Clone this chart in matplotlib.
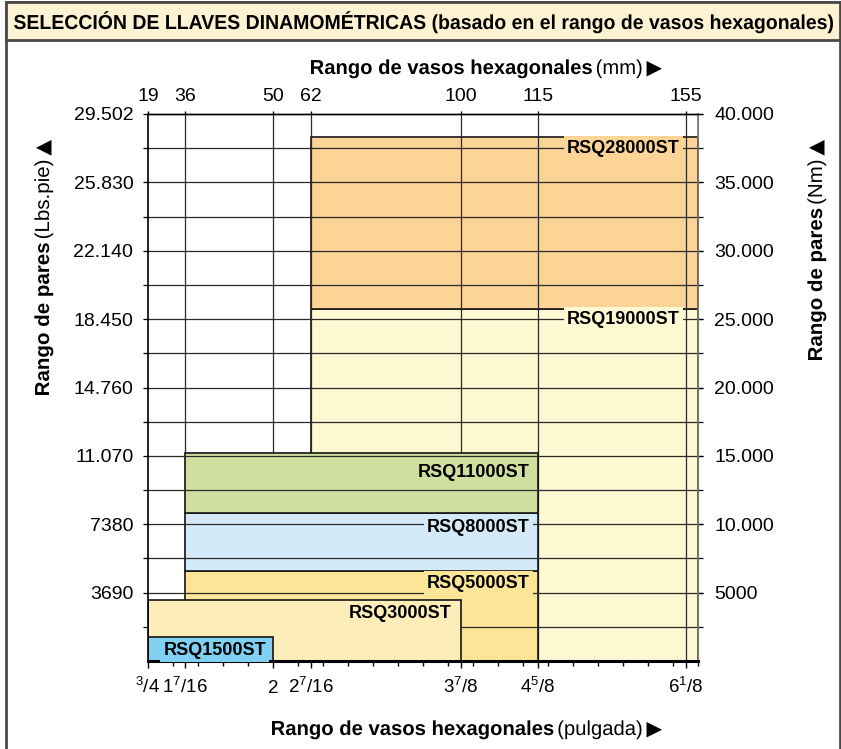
import numpy as np
import matplotlib.pyplot as plt
from matplotlib.patches import Rectangle, PathPatch
from matplotlib.textpath import TextPath
from matplotlib.font_manager import FontProperties
from matplotlib.transforms import Affine2D

# ==============================
# DATA
# ==============================

# socket size marks: position along the axis + labels
x_pos = [0.75, 1.12, 2.0, 2.38, 3.88, 4.65, 6.13]
mm_labels = ['19', '36', '50', '62', '100', '115', '155']
inch_labels = [r'$\mathregular{{}^{3}/4\ \ }$', r'$\mathregular{1^{7}/16}$', '2',
               r'$\mathregular{2^{7}/16}$', r'$\mathregular{3^{7}/8}$',
               r'$\mathregular{4^{5}/8}$', r'$\mathregular{6^{1}/8}$']

nm_ticks = [5000, 10000, 15000, 20000, 25000, 30000, 35000, 40000]
nm_labels = ['5000', '10.000', '15.000', '20.000', '25.000', '30.000', '35.000', '40.000']
lbs_labels = ['3690', '7380', '11.070', '14.760', '18.450', '22.140', '25.830', '29.502']

# wrench models: socket range (axis units) and torque range (Nm)
models = ['RSQ19000ST', 'RSQ28000ST', 'RSQ5000ST', 'RSQ8000ST', 'RSQ11000ST', 'RSQ3000ST', 'RSQ1500ST']
x_lo = [2.38, 2.38, 1.12, 1.12, 1.12, 0.75, 0.75]
x_hi = [6.25, 6.25, 4.65, 4.65, 4.65, 3.88, 2.0]
y_lo = [0, 25760, 0, 6600, 10800, 0, 0]
y_hi = [25760, 38300, 6600, 10800, 15230, 4480, 1780]

# ==============================
# STYLE
# ==============================

colors = ['#fef8d3', '#fcd495', '#fde597', '#d4eaf9', '#d0df9f', '#fdedb9', '#80d0f2']
zorders = [0.5, 0.5, 1, 1, 1, 2, 2]
label_x = [6.07, 6.07, 4.57, 4.57, 4.57, 3.79, 1.93]
label_y = [25000, 37500, 5700, 9750, 13800, 3500, 800]

W, H = 841, 749
plt.rcParams['font.family'] = ['Liberation Sans', 'DejaVu Sans']
plt.rcParams['mathtext.fontset'] = 'custom'
plt.rcParams['mathtext.rm'] = 'Liberation Sans'

fig = plt.figure(figsize=(W / 100, H / 100), dpi=100)
fig.patch.set_facecolor('white')

# frame + title band
fig.add_artist(Rectangle((6 / W, -0.01), 834 / W, 1 - 2 / H + 0.01, transform=fig.transFigure,
                         fc='none', ec='#4a4a4a', lw=2))
fig.add_artist(Rectangle((6 / W, 1 - 40 / H), 834 / W, 38 / H, transform=fig.transFigure,
                         fc='#fdf2d2', ec='#4a4a4a', lw=2))

ax = fig.add_axes([148 / W, 1 - 661 / H, 550 / W, 547 / H])
ax.set_xlim(0.75, 6.25)
ax.set_ylim(0, 40000)

for m, a, b, c, d, fc, z, lx, ly in zip(models, x_lo, x_hi, y_lo, y_hi, colors, zorders, label_x, label_y):
    ax.add_patch(Rectangle((a, c), b - a, d - c, fc=fc, ec='#151515', lw=1.2, zorder=z))
    ax.text(lx, ly, m, ha='right', va='center', fontsize=13, fontweight='bold', zorder=3,
            bbox=dict(fc=fc, ec='none', pad=2.5))

# grid
for y in np.arange(2500, 40000, 2500):
    ax.axhline(y, color='#2a2a2a', lw=0.9, zorder=1.5)
for x in x_pos[1:]:
    ax.axvline(x, color='#2a2a2a', lw=0.9, zorder=0.8)

# axes / ticks (lengths and pads in points)
ax.set_xticks(x_pos, inch_labels)
ax.set_xticks(np.arange(0.75, 6.26, 0.25), minor=True)
ax.tick_params(axis='x', which='major', length=5, width=1, pad=18, labelsize=13.5)
ax.tick_params(axis='x', which='minor', length=3.6, width=1)
for t in ax.get_xticklabels():
    t.set_va('baseline')

ax.set_yticks(nm_ticks, lbs_labels)
ax.set_yticks(np.arange(2500, 40000, 5000), minor=True)
ax.tick_params(axis='y', which='both', length=3.6, width=0.9, right=True, labelsize=14, pad=7)

ax.spines['bottom'].set_linewidth(2.2)
ax.spines['left'].set_linewidth(1.2)
ax.spines['top'].set_linewidth(1.0)
ax.spines['right'].set_color('#777777')
ax.spines['right'].set_linewidth(1.2)

top = ax.secondary_xaxis('top')
top.set_xticks(x_pos, mm_labels)
top.tick_params(length=2.2, width=1, labelsize=14, pad=4)
top.spines['top'].set_linewidth(1.0)

right = ax.secondary_yaxis('right')
right.set_yticks(nm_ticks, nm_labels)
right.tick_params(length=3.6, width=0.9, labelsize=14, pad=8)
right.spines['right'].set_color('#777777')

# ==============================
# TITLES: condensed look by squeezing text paths to the chart's widths
# ==============================


def squeezed(parts, x, y, length, rot=0, cap=14.5):
    size = cap / 0.716
    placed = []
    off = 0.0
    gap = 0.25 * size
    for s, w, fam in parts:
        tp = TextPath((0, 0), s, size=size, prop=FontProperties(family=fam, weight=w))
        ext = tp.get_extents()
        placed.append((tp, off - ext.x0))
        off += ext.x1 - ext.x0 + gap
    k = length / (off - gap)
    for tp, shift in placed:
        tr = Affine2D().translate(shift, 0).scale(k, 1).rotate_deg(rot).translate(x, H - y)
        fig.add_artist(PathPatch(tp, transform=tr, fc='black', ec='none', lw=0))


squeezed([('SELECCIÓN DE LLAVES DINAMOMÉTRICAS (basado en el rango de vasos hexagonales)',
           'bold', 'Liberation Sans')], 14, 29, 819)
squeezed([('Rango de vasos hexagonales', 'bold', 'Liberation Sans'), ('(mm)', 'normal', 'Liberation Sans'),
          ('▶', 'normal', 'DejaVu Sans')], 311, 74, 351)
squeezed([('Rango de vasos hexagonales', 'bold', 'Liberation Sans'), ('(pulgada)', 'normal', 'Liberation Sans'),
          ('▶', 'normal', 'DejaVu Sans')], 272, 735, 390)
squeezed([('Rango de pares', 'bold', 'Liberation Sans'), ('(Lbs.pie)', 'normal', 'Liberation Sans'),
          ('▲', 'normal', 'DejaVu Sans')], 49, 395, 255, rot=90)
squeezed([('Rango de pares', 'bold', 'Liberation Sans'), ('(Nm)', 'normal', 'Liberation Sans'),
          ('▲', 'normal', 'DejaVu Sans')], 822, 360, 220, rot=90)

fig.savefig('out.png', dpi=100)
